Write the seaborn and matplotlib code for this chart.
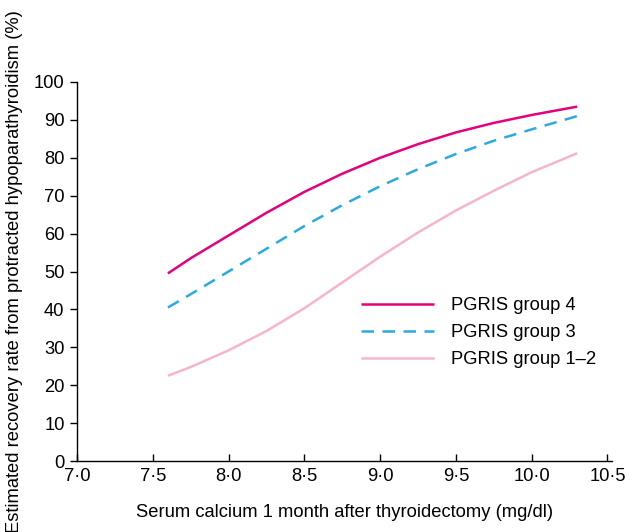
import matplotlib
matplotlib.use("Agg")
import matplotlib.pyplot as plt
import seaborn as sns
import pandas as pd

calcium = [7.6, 7.75, 8.0, 8.25, 8.5, 8.75, 9.0, 9.25, 9.5, 9.75, 10.0, 10.3]
group4 = [49.5, 53.5, 59.5, 65.5, 71.0, 75.8, 80.0, 83.6, 86.7, 89.2, 91.3, 93.5]
group3 = [40.5, 44.0, 50.0, 56.0, 62.0, 67.5, 72.5, 77.0, 81.0, 84.5, 87.5, 91.0]
group12 = [22.5, 24.8, 29.2, 34.3, 40.3, 47.1, 53.9, 60.3, 66.1, 71.3, 76.2, 81.2]

series_names = ["PGRIS group 4", "PGRIS group 3", "PGRIS group 1\u20132"]
series_values = [group4, group3, group12]

xticks = [7.0, 7.5, 8.0, 8.5, 9.0, 9.5, 10.0, 10.5]
xtick_labels = ["7\u00b70", "7\u00b75", "8\u00b70", "8\u00b75", "9\u00b70", "9\u00b75", "10\u00b70", "10\u00b75"]
yticks = [0, 10, 20, 30, 40, 50, 60, 70, 80, 90, 100]

sns.set_theme(style="white")
plt.rcParams["font.family"] = ["Liberation Sans", "DejaVu Sans"]
FS = 13.2

fig = plt.figure(figsize=(6.3, 5.32), dpi=100)
ax = fig.add_axes([77/630, 1-461/532, (612-77)/630, (461-82)/532])

colors = ["#E5007D", "#2AAAE1", "#F6B5CD"]
styles = ["-", "--", "-"]
widths = [1.8, 1.8, 1.8]

for name, vals, c, ls, lw in zip(series_names, series_values, colors, styles, widths):
    df = pd.DataFrame({"x": calcium, "y": vals})
    sns.lineplot(data=df, x="x", y="y", color=c, linewidth=lw, label=name, ax=ax)
    ln = ax.get_lines()[-1]
    ln.set_linestyle(ls)
    ln.set_solid_joinstyle("round")
    ln.set_solid_capstyle("butt")
    if ls == "--":
        ln.set_dashes((5.0, 3.4))

ax.set_xlim(7.0, 10.53)
ax.set_ylim(0, 100)
ax.set_xticks(xticks)
ax.set_xticklabels(xtick_labels)
ax.set_yticks(yticks)
ax.tick_params(axis="x", direction="in", length=5, width=1, colors="black", labelsize=FS, pad=5)
ax.tick_params(axis="y", direction="out", length=5, width=1, colors="black", labelsize=FS, pad=4)
ax.tick_params(bottom=True, left=True)
for s in ["top", "right"]:
    ax.spines[s].set_visible(False)
for s in ["left", "bottom"]:
    ax.spines[s].set_color("black")
    ax.spines[s].set_linewidth(1.0)

ax.set_xlabel("Serum calcium 1 month after thyroidectomy (mg/dl)", fontsize=FS, color="black", labelpad=14)
ax.set_ylabel("Estimated recovery rate from protracted hypoparathyroidism (%)", fontsize=FS, color="black")
ax.yaxis.set_label_coords(-0.10, 0.5)

leg = ax.legend(loc="upper left", bbox_to_anchor=(0.531, 0.432), frameon=False, fontsize=FS,
                handlelength=4.0, handletextpad=0.9, labelspacing=0.55, borderaxespad=0, borderpad=0)
for t in leg.get_texts():
    t.set_color("black")

fig.savefig("out.png", dpi=100, facecolor="white")
